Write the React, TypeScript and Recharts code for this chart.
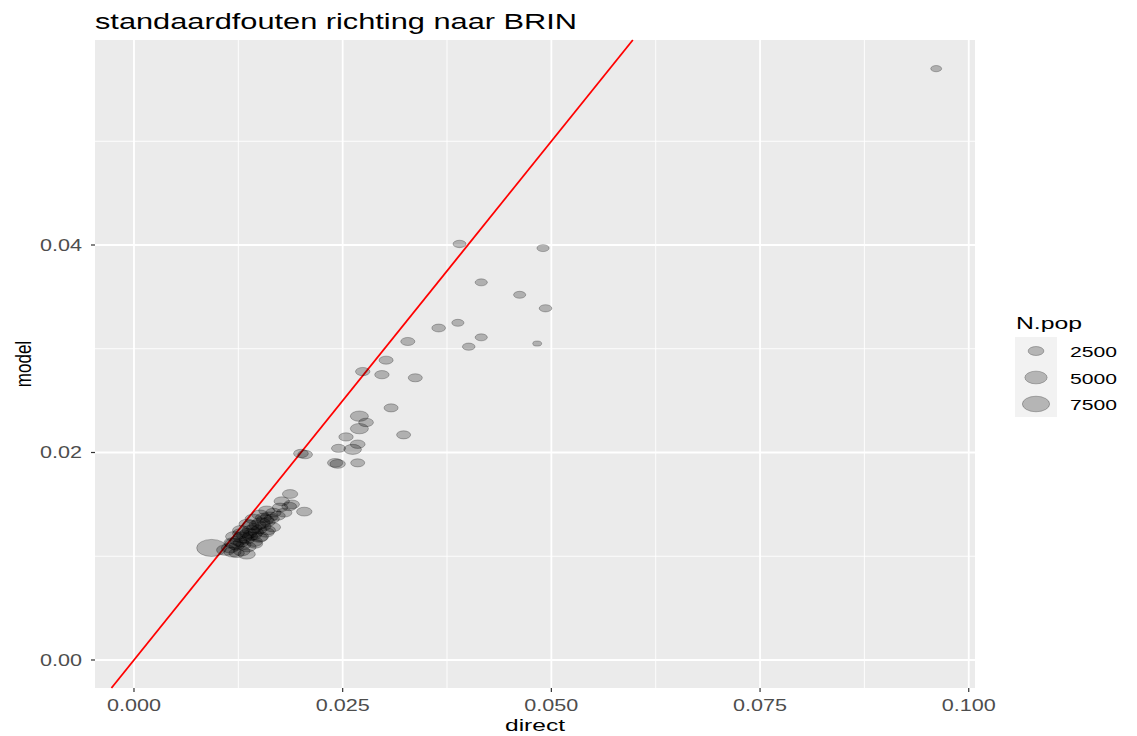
import React from "react";
import {
  ScatterChart,
  Scatter,
  XAxis,
  YAxis,
  CartesianGrid,
  ReferenceLine,
} from "recharts";

// values
const directValues = [
  0.0961, 0.039, 0.049, 0.0416, 0.0462, 0.0493, 0.0365, 0.0388, 0.0416, 0.0401,
  0.0483, 0.0328, 0.0302, 0.0274, 0.0297, 0.0337, 0.0308, 0.027, 0.0278, 0.027,
  0.0323, 0.0254, 0.0268, 0.0245, 0.0262, 0.02, 0.0205, 0.0241, 0.0244, 0.0268,
  0.0187, 0.0177, 0.0189, 0.0186, 0.0175, 0.0204, 0.0167, 0.018, 0.0172, 0.0165,
  0.0162, 0.016, 0.0157, 0.0155, 0.0152, 0.015, 0.0148, 0.0146, 0.0144, 0.0142,
  0.014, 0.0139, 0.0137, 0.0135, 0.0133, 0.0131, 0.013, 0.0128, 0.0125, 0.0123,
  0.012, 0.0115, 0.011, 0.0093, 0.0135, 0.0123, 0.0145, 0.0118, 0.0128, 0.014,
  0.015, 0.016, 0.0118, 0.0155, 0.012, 0.0128, 0.0136, 0.0143, 0.0151, 0.0159,
  0.0129, 0.0136, 0.0144, 0.0151, 0.0158, 0.0166,
];
const modelValues = [
  0.057, 0.0401, 0.0397, 0.0364, 0.0352, 0.0339, 0.032, 0.0325, 0.0311, 0.0302,
  0.0305, 0.0307, 0.0289, 0.0278, 0.0275, 0.0272, 0.0243, 0.0235, 0.0229, 0.0223,
  0.0217, 0.0215, 0.0208, 0.0204, 0.0203, 0.0199, 0.0198, 0.019, 0.0189, 0.019,
  0.016, 0.0153, 0.015, 0.0148, 0.0147, 0.0143, 0.0142, 0.0142, 0.0139, 0.0136,
  0.0138, 0.0133, 0.0135, 0.0129, 0.0132, 0.0126, 0.013, 0.0123, 0.0127, 0.0121,
  0.0125, 0.0119, 0.0122, 0.0116, 0.012, 0.0111, 0.0118, 0.0113, 0.0115, 0.011,
  0.0112, 0.0108, 0.0106, 0.0108, 0.0102, 0.0103, 0.0112, 0.0104, 0.0122, 0.013,
  0.0118, 0.0125, 0.0113, 0.0137, 0.0119, 0.0125, 0.0131, 0.0136, 0.014, 0.0144,
  0.0105, 0.0109, 0.0114, 0.0119, 0.0123, 0.0128,
];
const popValues = [
  1200, 1700, 1500, 1500, 1500, 1600, 1900, 1500, 1500, 1600,
  800, 2000, 2000, 2100, 2100, 2000, 2000, 3300, 2200, 3300,
  2000, 2100, 2200, 2000, 3100, 2200, 2200, 2400, 2400, 2000,
  2400, 2400, 2400, 2200, 2400, 2400, 2400, 2400, 2400, 2400,
  3000, 2400, 3000, 2400, 3500, 2400, 3000, 2400, 2400, 3500,
  3000, 2400, 3000, 2400, 3000, 2400, 3500, 2400, 3000, 2400,
  3500, 3000, 3500, 9000, 3000, 2400, 2400, 3000, 2800, 2800,
  2800, 2600, 3000, 2600, 3000, 2800, 3000, 2800, 2800, 2600,
  2800, 3000, 2800, 3000, 2800, 2600,
];

const xTicks = [0, 0.025, 0.05, 0.075, 0.1];
const xMinor = [0.0125, 0.0375, 0.0625, 0.0875];
const yTicks = [0, 0.02, 0.04];
const yMinor = [0.01, 0.03, 0.05];
const sizeBreaks = [2500, 5000, 7500];

const points = directValues.map((x, i) => ({
  x,
  y: modelValues[i],
  n: popValues[i],
}));

const X_MIN = -0.00467;
const X_MAX = 0.10075;
const Y_MIN = -0.0027;
const Y_MAX = 0.05976;

const W = 1137;
const H = 736;
const LEFT = 95;
const RIGHT = 975;
const TOP = 40;
const BOTTOM = 688;

const FONT = "'Liberation Sans', Arial, sans-serif";
const ASPECT = 1.75;
const radiusFor = (n: number) => 0.09 * Math.sqrt(n);

function Txt(props: any) {
  const { x, y, w, size, anchor = "start", fill = "#000", children } = props;
  return (
    <text
      x={x}
      y={y}
      fontSize={size}
      fontFamily={FONT}
      fill={fill}
      textAnchor={anchor}
      textLength={w}
      lengthAdjust="spacingAndGlyphs"
    >
      {children}
    </text>
  );
}

const Blob = (props: any) => {
  const { cx, cy, payload } = props;
  if (cx == null || cy == null) return null;
  const ry = radiusFor(payload?.n ?? 2000);
  return (
    <ellipse
      cx={cx}
      cy={cy}
      rx={ry * ASPECT}
      ry={ry}
      fill="#000"
      fillOpacity={0.25}
      stroke="#000"
      strokeOpacity={0.25}
      strokeWidth={1}
    />
  );
};

const XTick = (props: any) => (
  <Txt x={props.x} y={BOTTOM + 23} w={54} size={16} anchor="middle" fill="#4D4D4D">
    {Number(props.payload.value).toFixed(3)}
  </Txt>
);

const YTick = (props: any) => (
  <Txt x={LEFT - 13} y={props.y + 6} w={42} size={16} anchor="end" fill="#4D4D4D">
    {Number(props.payload.value).toFixed(2)}
  </Txt>
);

export default function App() {
  const lo = Math.max(X_MIN, Y_MIN);
  const hi = Math.min(X_MAX, Y_MAX);
  return (
    <div
      style={{
        position: "absolute",
        left: 0,
        top: 0,
        width: W,
        height: H,
        background: "#fff",
      }}
    >
      <ScatterChart
        width={W}
        height={H}
        margin={{ top: TOP, right: W - RIGHT, bottom: H - BOTTOM - 30, left: 0 }}
      >
        <CartesianGrid
          fill="#EBEBEB"
          stroke="#fff"
          strokeWidth={0.9}
          verticalValues={xMinor}
          horizontalValues={yMinor}
        />
        <CartesianGrid
          stroke="#fff"
          strokeWidth={1.8}
          verticalValues={xTicks}
          horizontalValues={yTicks}
        />
        <XAxis
          type="number"
          dataKey="x"
          domain={[X_MIN, X_MAX]}
          ticks={xTicks}
          allowDataOverflow
          interval={0}
          axisLine={false}
          tickSize={4}
          tickLine={{ stroke: "#333", strokeWidth: 1.2 }}
          tick={<XTick />}
          height={30}
        />
        <YAxis
          type="number"
          dataKey="y"
          domain={[Y_MIN, Y_MAX]}
          ticks={yTicks}
          allowDataOverflow
          interval={0}
          axisLine={false}
          tickSize={4}
          tickLine={{ stroke: "#333", strokeWidth: 1.2 }}
          tick={<YTick />}
          width={LEFT}
        />
        <Scatter data={points} shape={<Blob />} isAnimationActive={false} />
        <ReferenceLine
          segment={[
            { x: lo, y: lo },
            { x: hi, y: hi },
          ]}
          stroke="#FF0000"
          strokeWidth={1.8}
          ifOverflow="visible"
        />
      </ScatterChart>
      <svg
        width={W}
        height={H}
        style={{ position: "absolute", left: 0, top: 0, pointerEvents: "none" }}
      >
        <Txt x={95} y={29} w={482} size={22}>
          standaardfouten richting naar BRIN
        </Txt>
        <Txt x={(LEFT + RIGHT) / 2} y={731} w={60} size={17} anchor="middle">
          direct
        </Txt>
        <text
          transform={`translate(31 ${(TOP + BOTTOM) / 2}) scale(1.3 1) rotate(-90)`}
          fontSize={17}
          fontFamily={FONT}
          fill="#000"
          textAnchor="middle"
        >
          model
        </text>
        <Txt x={1016} y={329} w={66} size={16}>
          N.pop
        </Txt>
        <rect x={1015} y={337} width={42} height={80} fill="#F2F2F2" />
        {sizeBreaks.map((b, i) => {
          const cy = 351 + i * 26.5;
          const ry = radiusFor(b);
          return (
            <g key={b}>
              <ellipse
                cx={1036}
                cy={cy}
                rx={ry * ASPECT}
                ry={ry}
                fill="#000"
                fillOpacity={0.25}
                stroke="#000"
                strokeOpacity={0.25}
                strokeWidth={1}
              />
              <Txt x={1070} y={cy + 6} w={47} size={15}>
                {String(b)}
              </Txt>
            </g>
          );
        })}
      </svg>
    </div>
  );
}
